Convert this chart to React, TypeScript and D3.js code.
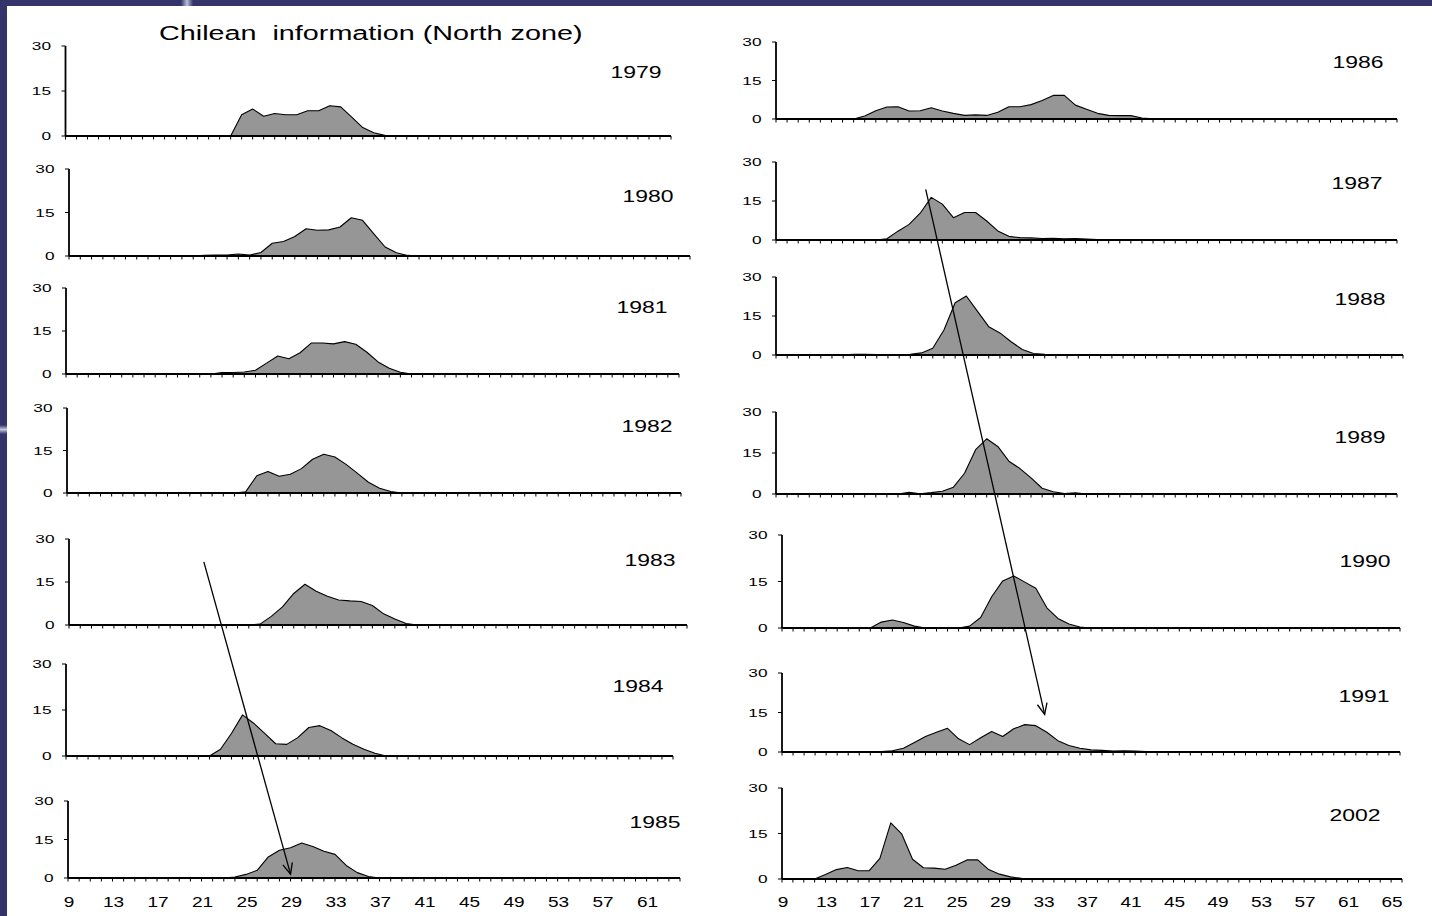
import React from 'react';
import * as d3 from 'd3';

// ---- data (length-frequency, %) ----
const title = 'Chilean  information (North zone)';
const yTickValues = [0, 15, 30];
const leftAxisLabels = [9, 13, 17, 21, 25, 29, 33, 37, 41, 45, 49, 53, 57, 61];
const rightAxisLabels = [9, 13, 17, 21, 25, 29, 33, 37, 41, 45, 49, 53, 57, 61, 65];

const years = ['1979', '1980', '1981', '1982', '1983', '1984', '1985', '1986', '1987', '1988', '1989', '1990', '1991', '2002'];

// first length class of each series, then the values from that class on
const first1979 = 24;
const freq1979 = [0, 7.1, 9.0, 6.6, 7.5, 7.1, 7.1, 8.4, 8.4, 10.1, 9.7, 6.3, 2.8, 1.1, 0.2, 0];
const first1980 = 21;
const freq1980 = [0.2, 0.3, 0.3, 0.7, 0.3, 1.2, 4.4, 5.0, 6.7, 9.4, 8.9, 9.0, 10.0, 13.2, 12.3, 7.6, 3.1, 1.1, 0.2, 0];
const first1981 = 22;
const freq1981 = [0, 0.5, 0.5, 0.7, 1.3, 3.8, 6.3, 5.3, 7.4, 10.8, 10.8, 10.5, 11.3, 10.4, 7.6, 4.2, 2.0, 0.6, 0];
const first1982 = 24;
const freq1982 = [0, 0.4, 6.1, 7.6, 5.9, 6.6, 8.6, 11.9, 13.7, 12.7, 10.1, 7.0, 3.8, 1.7, 0.5, 0];
const first1983 = 25;
const freq1983 = [0, 0.3, 3.0, 6.3, 11.0, 14.2, 11.8, 10.0, 8.7, 8.4, 8.2, 6.8, 3.9, 2.1, 0.5, 0];
const first1984 = 22;
const freq1984 = [0, 2.2, 7.4, 13.4, 10.7, 7.4, 4.0, 3.8, 6.0, 9.3, 9.9, 8.3, 5.9, 3.8, 2.2, 0.9, 0];
const first1985 = 23;
const freq1985 = [0, 0.4, 1.4, 3.0, 8.2, 10.8, 11.8, 13.6, 12.3, 10.4, 9.2, 4.9, 2.1, 0.6, 0];
const first1986 = 16;
const freq1986 = [0, 1.2, 3.2, 4.7, 4.8, 3.1, 3.2, 4.4, 3.1, 2.2, 1.4, 1.6, 1.4, 2.6, 4.8, 4.8, 5.6, 7.2, 9.2, 9.2, 5.4, 3.8, 2.2, 1.4, 1.3, 1.3, 0.4, 0.1, 0];
const first1987 = 18;
const freq1987 = [0, 0.5, 3.4, 6.0, 10.3, 16.4, 13.8, 8.6, 10.6, 10.6, 7.3, 3.5, 1.4, 0.9, 0.8, 0.6, 0.7, 0.5, 0.6, 0.4, 0.2, 0];
const first1988 = 14;
const freq1988 = [0, 0.1, 0.3, 0.3, 0.2, 0, 0.1, 0.3, 0.8, 2.6, 9.6, 20.1, 22.7, 16.8, 10.9, 8.5, 5.1, 2.1, 0.6, 0.3, 0.2, 0.2, 0.2, 0.2, 0.2, 0];
const first1989 = 20;
const freq1989 = [0, 0.6, 0.1, 0.5, 1.0, 2.5, 7.6, 16.2, 20.2, 17.4, 12.0, 9.3, 5.9, 2.1, 0.8, 0.2, 0.4, 0];
const first1990 = 17;
const freq1990 = [0, 1.9, 2.6, 1.8, 0.6, 0, 0, 0, 0, 0.6, 3.4, 10.1, 15.2, 16.8, 14.8, 12.8, 6.5, 3.1, 1.3, 0.3, 0];
const first1991 = 17;
const freq1991 = [0, 0.2, 0.5, 1.4, 3.6, 5.9, 7.5, 9.0, 5.0, 2.8, 5.4, 7.8, 5.9, 8.8, 10.4, 10.0, 7.5, 4.3, 2.5, 1.4, 0.8, 0.6, 0.4, 0.5, 0.4, 0.2, 0];
const first2002 = 12;
const freq2002 = [0, 1.5, 3.1, 3.8, 2.7, 2.7, 6.8, 18.5, 14.9, 6.5, 3.7, 3.6, 3.2, 4.5, 6.3, 6.3, 3.1, 1.6, 0.7, 0.2, 0];

const firsts = [first1979, first1980, first1981, first1982, first1983, first1984, first1985,
  first1986, first1987, first1988, first1989, first1990, first1991, first2002];
const freqs = [freq1979, freq1980, freq1981, freq1982, freq1983, freq1984, freq1985,
  freq1986, freq1987, freq1988, freq1989, freq1990, freq1991, freq2002];

// cohort arrows: [panel, length class, %] -> [panel, length class, %]
const arrowFrom = [[4, 21, 22], [8, 22.5, 19.5]];
const arrowTo = [[6, 29, 1.5], [12, 32.8, 14.3]];

// ---- layout of the pasted charts ----
interface Frame { x0: number; x1: number; top: number; base: number; maxC: number; lx: number; ly: number; }
const frames: Frame[] = [
  { x0: 65.5, x1: 671, top: 46, base: 136, maxC: 64, lx: 636, ly: 72 },
  { x0: 69, x1: 690, top: 169, base: 256, maxC: 64, lx: 648, ly: 196 },
  { x0: 66, x1: 679, top: 288, base: 374, maxC: 64, lx: 642, ly: 307 },
  { x0: 67, x1: 681, top: 408, base: 493, maxC: 64, lx: 647, ly: 426 },
  { x0: 69, x1: 687, top: 539, base: 625, maxC: 64, lx: 650, ly: 560 },
  { x0: 66, x1: 673, top: 664, base: 756, maxC: 64, lx: 638, ly: 686 },
  { x0: 68, x1: 680, top: 801, base: 878, maxC: 64, lx: 655, ly: 822 },
  { x0: 776, x1: 1397, top: 42, base: 119, maxC: 65, lx: 1358, ly: 62 },
  { x0: 776, x1: 1397, top: 162, base: 240, maxC: 65, lx: 1357, ly: 183 },
  { x0: 776, x1: 1403, top: 277, base: 355, maxC: 65, lx: 1360, ly: 299 },
  { x0: 776, x1: 1397, top: 412, base: 494, maxC: 65, lx: 1360, ly: 437 },
  { x0: 782, x1: 1400, top: 535, base: 628, maxC: 65, lx: 1365, ly: 561 },
  { x0: 782, x1: 1400, top: 673, base: 752, maxC: 65, lx: 1364, ly: 696 },
  { x0: 782, x1: 1402, top: 788, base: 879, maxC: 66, lx: 1355, ly: 815 },
];

const FONT = '"Liberation Sans", Arial, sans-serif';
const NAVY = '#34346a';

interface P { c: number; v: number; }

const scalesFor = (f: Frame) => ({
  x: d3.scaleLinear().domain([9, f.maxC]).range([f.x0, f.x1]),
  y: d3.scaleLinear().domain([0, 30]).range([f.base, f.top]),
});

const seriesFor = (first: number, values: number[], maxC: number): P[] =>
  d3.range(9, maxC + 1).map(c => {
    const i = c - first;
    return { c, v: i >= 0 && i < values.length ? values[i] : 0 };
  });

const Panel: React.FC<{ i: number; labels?: number[] }> = ({ i, labels }) => {
  const f = frames[i];
  const { x, y } = scalesFor(f);
  const pts = seriesFor(firsts[i], freqs[i], f.maxC);
  const area = d3.area<P>().x(d => x(d.c)).y0(y(0)).y1(d => y(d.v));
  const line = d3.line<P>().x(d => x(d.c)).y(d => y(d.v));
  const ticks = d3.range(9, f.maxC + 1);
  return (
    <g>
      <path d={area(pts) ?? ''} fill="#969696" />
      <path d={line(pts) ?? ''} fill="none" stroke="#000" strokeWidth={1.1} strokeLinejoin="round" />
      {ticks.map(c => (
        <line key={c} x1={x(c)} x2={x(c)} y1={y(0)} y2={y(0) + 3.5} stroke="#000" strokeWidth={1} />
      ))}
      <line x1={f.x0} x2={f.x1} y1={y(0)} y2={y(0)} stroke="#000" strokeWidth={2.2} />
      <line x1={f.x0} x2={f.x0} y1={y(30)} y2={y(0)} stroke="#000" strokeWidth={1.8} />
      {yTickValues.map(v => (
        <g key={v}>
          <line x1={f.x0 - 4} x2={f.x0} y1={y(v)} y2={y(v)} stroke="#000" strokeWidth={1} />
          <text transform={`translate(${f.x0 - 14.5},${y(v) + 4}) scale(1.5,1)`} textAnchor="end"
            fontSize={11.5} fontFamily={FONT} fill="#000">{v}</text>
        </g>
      ))}
      <text transform={`translate(${f.lx},${f.ly + 6}) scale(1.35,1)`} textAnchor="middle"
        fontSize={17} fontFamily={FONT} fill="#000">{years[i]}</text>
      {labels && labels.map(c => (
        <text key={c} transform={`translate(${x(c) + 1},${907}) scale(1.27,1)`} textAnchor="middle"
          fontSize={15} fontFamily={FONT} fill="#000">{c}</text>
      ))}
    </g>
  );
};

const Arrow: React.FC<{ k: number }> = ({ k }) => {
  const [pa, ca, va] = arrowFrom[k];
  const [pb, cb, vb] = arrowTo[k];
  const sa = scalesFor(frames[pa]);
  const sb = scalesFor(frames[pb]);
  const x1 = sa.x(ca), y1 = sa.y(va), x2 = sb.x(cb), y2 = sb.y(vb);
  const ang = Math.atan2(y2 - y1, x2 - x1);
  const len = 12, spread = 0.42;
  const arm = (s: number) => [x2 - len * Math.cos(ang + s), y2 - len * Math.sin(ang + s)];
  const [ax, ay] = arm(spread);
  const [bx, by] = arm(-spread);
  return (
    <g stroke="#000" strokeWidth={1.3} fill="none">
      <line x1={x1} y1={y1} x2={x2} y2={y2} />
      <polyline points={`${ax},${ay} ${x2},${y2} ${bx},${by}`} />
    </g>
  );
};

export default function App() {
  return (
    <div style={{ position: 'absolute', left: 0, top: 0 }}>
      <svg width={1432} height={916} style={{ display: 'block' }}>
        <defs>
          <linearGradient id="vstreak" x1="0" x2="1" y1="0" y2="0">
            <stop offset="0" stopColor={NAVY} />
            <stop offset="0.5" stopColor="#b9bfd8" />
            <stop offset="1" stopColor={NAVY} />
          </linearGradient>
          <linearGradient id="hstreak" x1="0" x2="0" y1="0" y2="1">
            <stop offset="0" stopColor={NAVY} />
            <stop offset="0.5" stopColor="#c3c8de" />
            <stop offset="1" stopColor={NAVY} />
          </linearGradient>
        </defs>
        <rect x={0} y={0} width={1432} height={916} fill={NAVY} />
        <rect x={181} y={0} width={12} height={6} fill="url(#vstreak)" />
        <rect x={0} y={425} width={7} height={9} fill="url(#hstreak)" />
        <rect x={7} y={6} width={1425} height={910} fill="#fff" />
        <text transform="translate(159,40) scale(1.37,1)" fontSize={21} fontFamily={FONT}
          fill="#000" style={{ whiteSpace: 'pre' }}>{title}</text>
        {frames.map((_, i) => (
          <Panel key={i} i={i} labels={i === 6 ? leftAxisLabels : i === 13 ? rightAxisLabels : undefined} />
        ))}
        <Arrow k={0} />
        <Arrow k={1} />
      </svg>
    </div>
  );
}
